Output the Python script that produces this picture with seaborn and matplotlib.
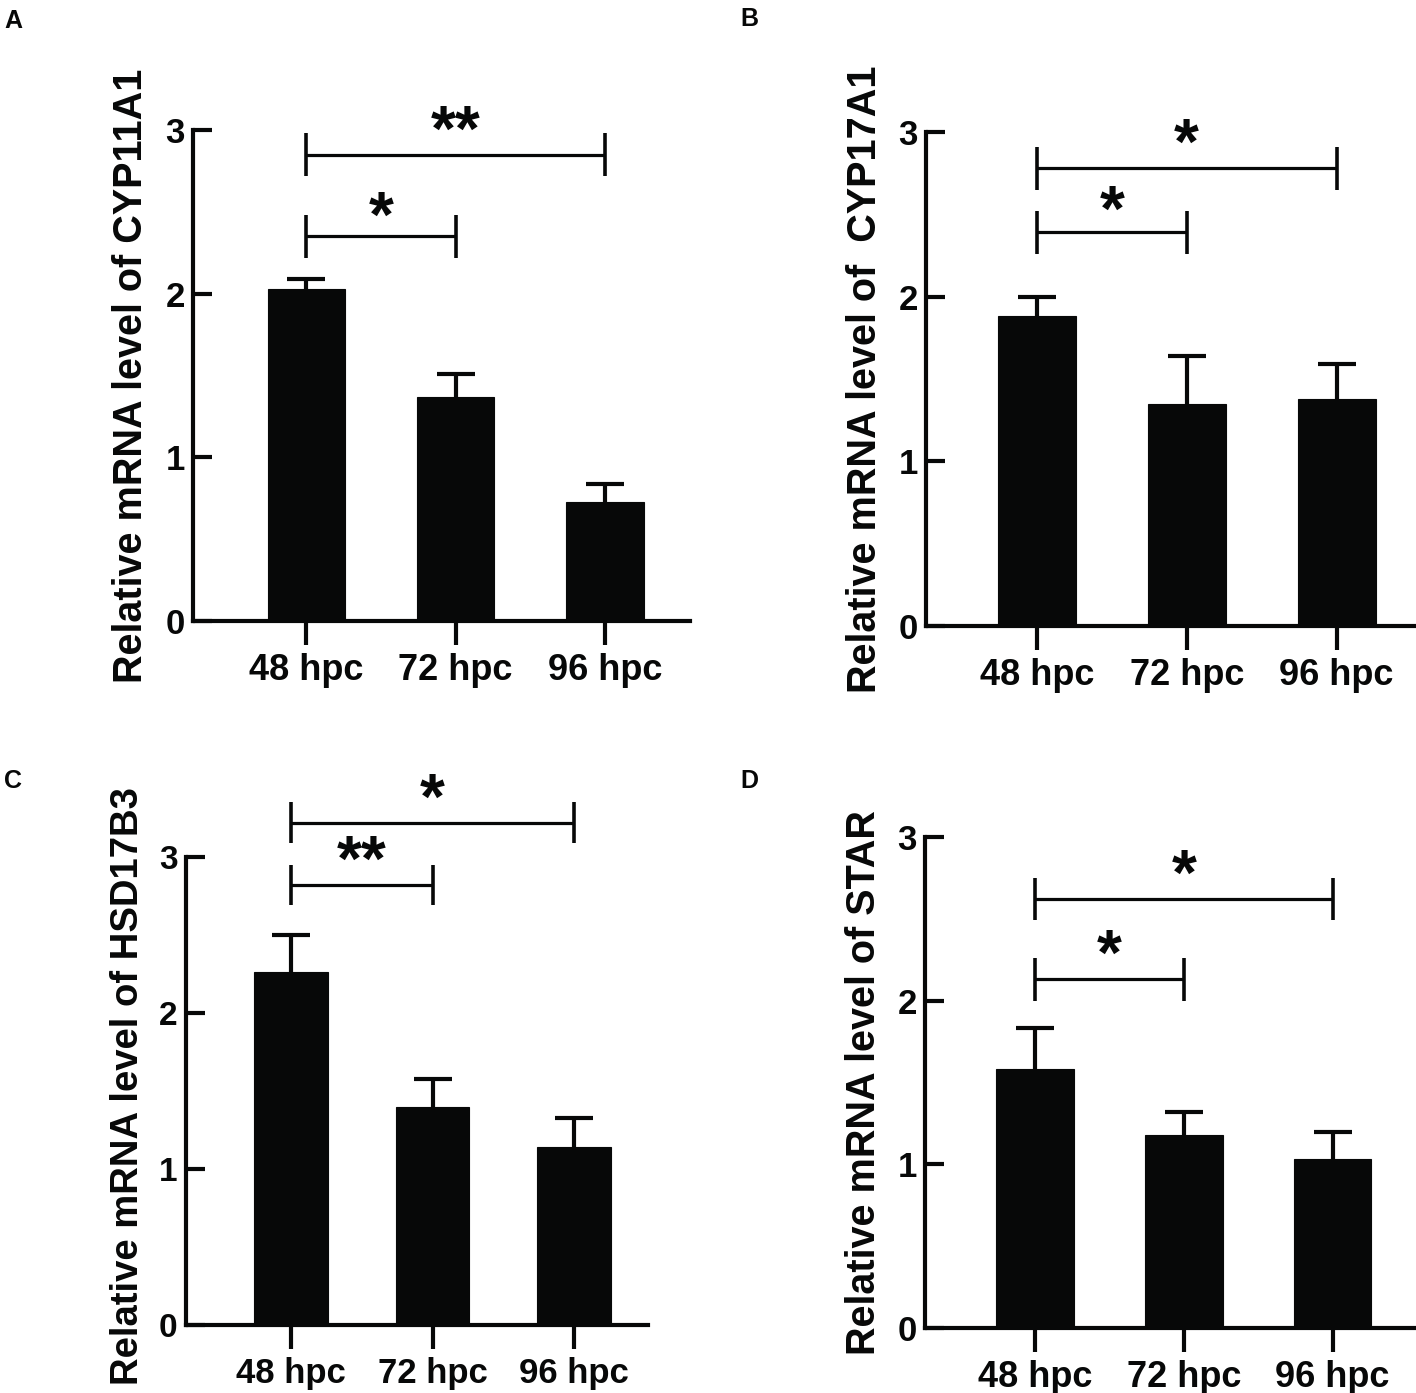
import numpy as np
import pandas as pd
import matplotlib
matplotlib.use("Agg")
import matplotlib.pyplot as plt
import seaborn as sns

# ---------------- data ----------------
groups = ["48 hpc", "72 hpc", "96 hpc"]

cyp11a1_mean = [2.03, 1.37, 0.73]
cyp11a1_err = [0.06, 0.14, 0.11]

cyp17a1_mean = [1.88, 1.35, 1.38]
cyp17a1_err = [0.12, 0.29, 0.21]

hsd17b3_mean = [2.26, 1.40, 1.14]
hsd17b3_err = [0.24, 0.18, 0.19]

star_mean = [1.58, 1.18, 1.03]
star_err = [0.25, 0.14, 0.17]

panel_letters = ["A", "B", "C", "D"]
ylabels = [
    "Relative mRNA level of CYP11A1",
    "Relative mRNA level of  CYP17A1",
    "Relative mRNA level of HSD17B3",
    "Relative mRNA level of STAR",
]
# significance brackets: (group i, group j)
sig_pairs = [(0, 1), (0, 2)]
sig_labels = [["*", "**"], ["*", "*"], ["**", "*"], ["*", "*"]]
sig_heights = [[2.35, 2.85], [2.39, 2.78], [2.82, 3.22], [2.13, 2.62]]

# ---------------- style ----------------
sns.set_theme(style="ticks")
plt.rcParams["font.family"] = ["Liberation Sans", "DejaVu Sans"]
plt.rcParams["font.weight"] = "bold"

W, H = 1416, 1393
fig = plt.figure(figsize=(W / 100, H / 100), dpi=100)

# axes placement in pixels: (spine x, right end x, y of 3, y of 0, xlim left, xlim right)
layout = [
    (193, 690, 130, 621, -0.76, 2.57),
    (926, 1416, 132, 626, -0.74, 2.53),
    (186, 648, 857, 1325, -0.74, 2.52),
    (925, 1416, 837, 1328, -0.74, 2.56),
]
letter_pos = [(4, 28), (740, 26), (4, 788), (740, 788)]
ylabel_x = [-0.086, -0.086, -0.086, -0.086]
ylabel_y = [0.5, 0.5, 0.51, 0.5]
ylabel_fs = [28.5, 28.5, 27.5, 28.5]
tick_fs = [26, 26, 25, 26]
star_dy = [[0, 3], [1, 3], [3, 3], [3, 3]]

means = [cyp11a1_mean, cyp17a1_mean, hsd17b3_mean, star_mean]
errs = [cyp11a1_err, cyp17a1_err, hsd17b3_err, star_err]

INK = "#070808"
LW = 3.0
for k in range(4):
    sx, ex, y3, y0, xl, xr = layout[k]
    ax = fig.add_axes([sx / W, 1 - y0 / H, (ex - sx) / W, (y0 - y3) / H])
    df = pd.DataFrame({"group": groups, "value": means[k]})
    xs = np.arange(len(groups))
    # error bars drawn first (symmetric); the lower half is hidden by the bar
    ax.errorbar(xs, means[k], yerr=errs[k], fmt="none",
                ecolor=INK, elinewidth=LW, capsize=13.5, capthick=LW,
                zorder=1)
    sns.barplot(data=df, x="group", y="value", color=INK, width=0.52,
                edgecolor=INK, linewidth=0.8, errorbar=None, ax=ax,
                saturation=1, zorder=2)
    ax.set_ylim(0, 3)
    ax.set_xlim(xl, xr)
    ax.set_yticks([0, 1, 2, 3])
    ax.set_yticklabels(["0", "1", "2", "3"])
    ax.set_xlabel("")
    ax.set_ylabel(ylabels[k], fontsize=ylabel_fs[k], fontweight="bold", color=INK)
    ax.yaxis.set_label_coords(ylabel_x[k], ylabel_y[k])
    sns.despine(ax=ax)
    for s in ["left", "bottom"]:
        ax.spines[s].set_linewidth(LW)
        ax.spines[s].set_color(INK)
    ax.tick_params(axis="y", direction="in", length=14, width=LW, pad=6,
                   labelsize=tick_fs[k] - 1, colors=INK)
    ax.tick_params(axis="x", direction="out", length=17, width=LW, pad=6,
                   labelsize=tick_fs[k], colors=INK)
    for t in ax.get_xticklabels() + ax.get_yticklabels():
        t.set_fontweight("bold")
    # significance brackets
    for n, ((i, j), lab, h) in enumerate(zip(sig_pairs, sig_labels[k], sig_heights[k])):
        ax.plot([xs[i], xs[j]], [h, h], color=INK, lw=2.3,
                clip_on=False, solid_capstyle="butt")
        for xx in (xs[i], xs[j]):
            ax.plot([xx, xx], [h - 0.13, h + 0.13], color=INK, lw=2.6,
                    clip_on=False, solid_capstyle="butt")
        ax.annotate(lab, xy=((xs[i] + xs[j]) / 2, h), xytext=(0, star_dy[k][n]),
                    textcoords="offset points", ha="center", va="baseline",
                    fontsize=46, fontweight="bold", color=INK,
                    annotation_clip=False)
    lx, ly = letter_pos[k]
    fig.text(lx / W, 1 - ly / H, panel_letters[k], fontsize=18,
             fontweight="bold", ha="left", va="baseline", color=INK)

fig.savefig("out.png", dpi=100, facecolor="white")
